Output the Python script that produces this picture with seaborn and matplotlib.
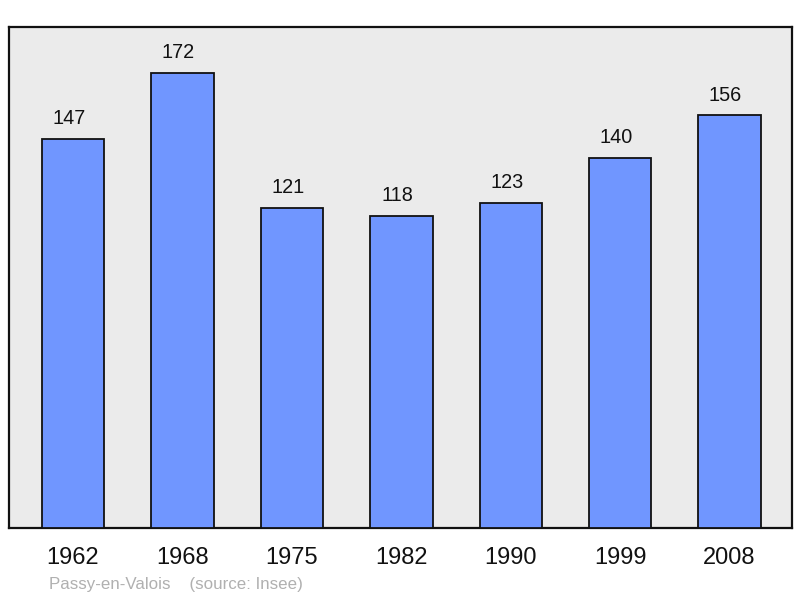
import matplotlib
matplotlib.use("Agg")
import matplotlib.pyplot as plt
import seaborn as sns
import pandas as pd

years = ["1962", "1968", "1975", "1982", "1990", "1999", "2008"]
population = [147, 172, 121, 118, 123, 140, 156]

df = pd.DataFrame({"year": years, "pop": population})

sns.set_theme(style="white")
plt.rcParams["font.family"] = ["Liberation Sans", "DejaVu Sans"]

fig = plt.figure(figsize=(8, 5.98), dpi=100)
ax = fig.add_axes([9/800, 1 - 528/598, (792-9)/800, (528-27)/598])
ax.set_facecolor("#ebebeb")

sns.barplot(data=df, x="year", y="pop", color="#7096ff", saturation=1,
            width=0.57, edgecolor="#111111", linewidth=1.3, ax=ax, zorder=3)

for i, v in enumerate(population):
    ax.text(i - 0.037, v + 4.1, str(v), ha="center", va="bottom", fontsize=14.3, color="#111111")

ax.set_xlim(-0.585, 6.57)
ax.set_ylim(0, 189.4)
ax.set_yticks([])
ax.set_xlabel("")
ax.set_ylabel("")
ax.tick_params(axis="x", length=0, pad=14, labelsize=17, labelcolor="#111111")
for s in ax.spines.values():
    s.set_visible(True)
    s.set_color("#111111")
    s.set_linewidth(1.6)

fig.text(49/800, 1 - 584/598, "Passy-en-Valois    (source: Insee)", fontsize=12.2,
         color="#b0b0b0", ha="left", va="center")

fig.savefig("out.png", dpi=100)
